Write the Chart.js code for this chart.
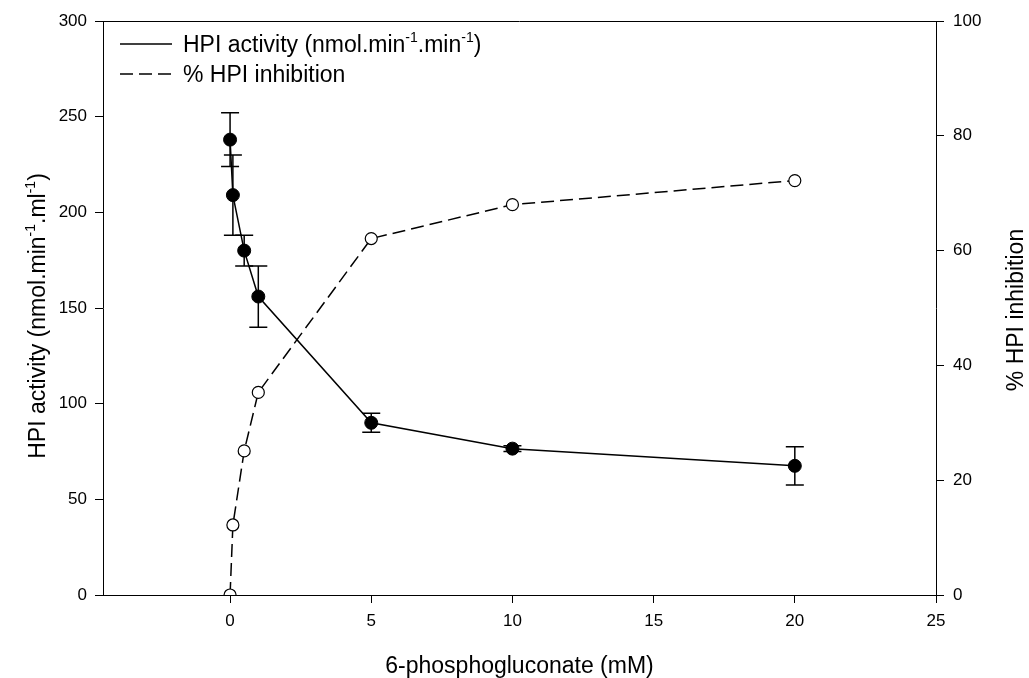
<!DOCTYPE html>
<html>
<head>
<meta charset="utf-8">
<script src="https://cdn.jsdelivr.net/npm/chart.js@4/dist/chart.umd.min.js"></script>
<style>
  html, body { margin: 0; padding: 0; background: #fff; }
  #wrap { width: 1029px; height: 678px; }
</style>
</head>
<body>
<div id="wrap"><canvas id="chart" width="1029" height="678"></canvas></div>
<script>
// 6-phosphogluconate concentration (mM)
const xValues = [0, 0.1, 0.5, 1, 5, 10, 20];
// HPI activity, left axis
const activity = [238, 209, 180, 156, 90, 76.5, 67.5];
const activityErr = [14, 21, 8, 16, 5, 1.5, 10];
// % HPI inhibition, right axis
const inhibition = [0, 12.2, 25.1, 35.3, 62.1, 68, 72.2];

const xTicks = [0, 5, 10, 15, 20, 25];
const yTicks = [0, 50, 100, 150, 200, 250, 300];
const y1Ticks = [0, 20, 40, 60, 80, 100];

const FONT = '"Liberation Sans", Arial, sans-serif';
const TITLE_SIZE = 23;

// text with superscript parts, drawn left to right from x (baseline y)
function richWidth(ctx, parts, size) {
  let w = 0;
  parts.forEach((p) => {
    ctx.font = (p.sup ? Math.round(size * 0.62) : size) + "px " + FONT;
    w += ctx.measureText(p.t).width;
  });
  return w;
}
function drawRich(ctx, parts, x, y, size) {
  ctx.textBaseline = "alphabetic";
  ctx.textAlign = "left";
  parts.forEach((p) => {
    ctx.font = (p.sup ? Math.round(size * 0.62) : size) + "px " + FONT;
    ctx.fillText(p.t, x, p.sup ? y - size * 0.42 : y);
    x += ctx.measureText(p.t).width;
  });
}

const legendParts = [
  { t: "HPI activity (nmol.min" }, { t: "-1", sup: true },
  { t: ".min" }, { t: "-1", sup: true }, { t: ")" },
];
const yTitleParts = [
  { t: "HPI activity (nmol.min" }, { t: "-1", sup: true },
  { t: ".ml" }, { t: "-1", sup: true }, { t: ")" },
];

const errorBars = {
  id: "errorBars",
  beforeDatasetsDraw(chart) {
    const ctx = chart.ctx;
    const xs = chart.scales.x;
    const ys = chart.scales.y;
    ctx.save();
    ctx.strokeStyle = "#000";
    ctx.lineWidth = 1.5;
    xValues.forEach((xv, i) => {
      const px = xs.getPixelForValue(xv);
      const top = ys.getPixelForValue(activity[i] + activityErr[i]);
      const bot = ys.getPixelForValue(activity[i] - activityErr[i]);
      ctx.beginPath();
      ctx.moveTo(px, top); ctx.lineTo(px, bot);
      ctx.moveTo(px - 9, top); ctx.lineTo(px + 9, top);
      ctx.moveTo(px - 9, bot); ctx.lineTo(px + 9, bot);
      ctx.stroke();
    });
    ctx.restore();
  },
};

const decorations = {
  id: "decorations",
  afterDraw(chart) {
    const ctx = chart.ctx;
    const a = chart.chartArea;
    ctx.save();
    // top frame line
    ctx.strokeStyle = "#000";
    ctx.lineWidth = 1;
    ctx.beginPath();
    ctx.moveTo(a.left, a.top + 0.5);
    ctx.lineTo(a.right, a.top + 0.5);
    ctx.stroke();

    ctx.fillStyle = "#000";
    // legend
    ctx.lineWidth = 1.5;
    ctx.beginPath();
    ctx.moveTo(120, 44); ctx.lineTo(172, 44);
    ctx.stroke();
    ctx.setLineDash([13, 6]);
    ctx.beginPath();
    ctx.moveTo(120, 74); ctx.lineTo(172, 74);
    ctx.stroke();
    ctx.setLineDash([]);
    drawRich(ctx, legendParts, 183, 52, TITLE_SIZE);
    drawRich(ctx, [{ t: "% HPI inhibition" }], 183, 82, TITLE_SIZE);

    // x title
    ctx.font = TITLE_SIZE + "px " + FONT;
    ctx.textAlign = "center";
    ctx.fillText("6-phosphogluconate (mM)", (a.left + a.right) / 2, 673);

    // left y title
    const midY = (a.top + a.bottom) / 2;
    ctx.save();
    ctx.translate(45, midY + 8);
    ctx.rotate(-Math.PI / 2);
    const w = richWidth(ctx, yTitleParts, TITLE_SIZE);
    drawRich(ctx, yTitleParts, -w / 2, 0, TITLE_SIZE);
    ctx.restore();

    // right y title
    ctx.save();
    ctx.translate(1023, midY + 2);
    ctx.rotate(-Math.PI / 2);
    ctx.font = TITLE_SIZE + "px " + FONT;
    ctx.textAlign = "center";
    ctx.textBaseline = "alphabetic";
    ctx.fillText("% HPI inhibition", 0, 0);
    ctx.restore();
    ctx.restore();
  },
};

const tickFont = { family: FONT, size: 17 };
const axisGrid = {
  display: true,
  drawOnChartArea: false,
  drawTicks: true,
  tickLength: 8,
  color: "#000",
  tickColor: "#000",
};
const axisBorder = { display: true, color: "#000", width: 1 };

new Chart(document.getElementById("chart"), {
  type: "line",
  data: {
    datasets: [
      {
        label: "% HPI inhibition",
        data: xValues.map((x, i) => ({ x, y: inhibition[i] })),
        yAxisID: "y1",
        borderColor: "#000",
        borderWidth: 1.5,
        borderDash: [13, 6],
        pointRadius: 6,
        pointBackgroundColor: "#fff",
        pointBorderColor: "#000",
        pointBorderWidth: 1.2,
        tension: 0,
        fill: false,
      },
      {
        label: "HPI activity",
        data: xValues.map((x, i) => ({ x, y: activity[i] })),
        yAxisID: "y",
        borderColor: "#000",
        borderWidth: 1.5,
        pointRadius: 6.5,
        pointBackgroundColor: "#000",
        pointBorderColor: "#000",
        pointBorderWidth: 1,
        tension: 0,
        fill: false,
      },
    ],
  },
  options: {
    responsive: false,
    animation: false,
    layout: { padding: { top: 21, left: 0, right: 0, bottom: 0 } },
    plugins: {
      legend: { display: false },
      tooltip: { enabled: false },
    },
    scales: {
      x: {
        type: "linear",
        min: -4.5,
        max: 25,
        afterBuildTicks: (axis) => { axis.ticks = xTicks.map((v) => ({ value: v })); },
        afterFit: (axis) => { axis.height = 83; },
        grid: axisGrid,
        border: axisBorder,
        ticks: { font: tickFont, color: "#000", padding: 8, maxRotation: 0 },
      },
      y: {
        position: "left",
        min: 0,
        max: 300,
        afterBuildTicks: (axis) => { axis.ticks = yTicks.map((v) => ({ value: v })); },
        afterFit: (axis) => { axis.width = 103; },
        grid: axisGrid,
        border: axisBorder,
        ticks: { font: tickFont, color: "#000", padding: 8 },
      },
      y1: {
        position: "right",
        min: 0,
        max: 100,
        afterBuildTicks: (axis) => { axis.ticks = y1Ticks.map((v) => ({ value: v })); },
        afterFit: (axis) => { axis.width = 93; },
        grid: axisGrid,
        border: axisBorder,
        ticks: { font: tickFont, color: "#000", padding: 9 },
      },
    },
  },
  plugins: [errorBars, decorations],
});
</script>
</body>
</html>
